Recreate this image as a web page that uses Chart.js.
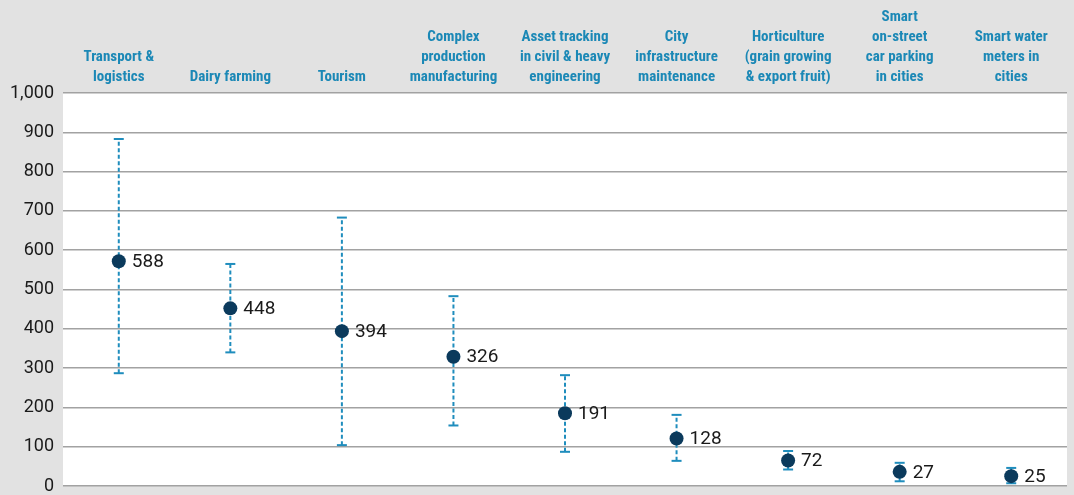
<!DOCTYPE html>
<html>
<head>
<meta charset="utf-8">
<script src="https://cdn.jsdelivr.net/npm/chart.js@4/dist/chart.umd.min.js"></script>
<style>
    html, body {
        margin: 0;
        padding: 0;
        background: #e2e2e2;
    }
    #wrap {
        width: 1074px;
        height: 495px;
    }
</style>
</head>
<body>
<div id="wrap"><canvas id="my-chart"></canvas></div>
<script>
    // categories (multi-line, as printed above the plot)
    const categories = [
        ['Transport &', 'logistics'],
        ['Dairy farming'],
        ['Tourism'],
        ['Complex', 'production', 'manufacturing'],
        ['Asset tracking', 'in civil & heavy', 'engineering'],
        ['City', 'infrastructure', 'maintenance'],
        ['Horticulture', '(grain growing', '& export fruit)'],
        ['Smart', 'on-street', 'car parking', 'in cities'],
        ['Smart water', 'meters in', 'cities']
    ];

    // printed estimates next to each marker
    const estimateLabels = [588, 448, 394, 326, 191, 128, 72, 27, 25];

    // marker positions as drawn in the picture
    const markerValues = [572, 452, 394, 329, 185, 121, 65, 36, 25];

    // range ends (whiskers)
    const lowValues = [287, 340, 104, 154, 87, 64, 42, 12, 7];
    const highValues = [883, 565, 683, 483, 282, 181, 89, 59, 46];

    const yTicks = [0, 100, 200, 300, 400, 500, 600, 700, 800, 900, 1000];

    const markerData = markerValues.map((v, i) => ({x: i, y: v}));

    // one dataset for all whiskers: low, high, gap
    const whiskerData = [];
    categories.forEach((c, i) => {
        whiskerData.push({x: i, y: lowValues[i]});
        whiskerData.push({x: i, y: highValues[i]});
        whiskerData.push({x: i, y: null});
    });

    const plotBackground = {
        id: 'plotBackground',
        beforeDraw(chart) {
            const {ctx, chartArea} = chart;
            ctx.save();
            ctx.fillStyle = '#ffffff';
            ctx.fillRect(chartArea.left, chartArea.top, chartArea.right - chartArea.left, chartArea.bottom - chartArea.top);
            ctx.restore();
        }
    };

    const valueLabels = {
        id: 'valueLabels',
        afterDatasetsDraw(chart) {
            const {ctx} = chart;
            const meta = chart.getDatasetMeta(0);
            ctx.save();
            ctx.font = '19px Roboto';
            ctx.fillStyle = '#1a1a1a';
            ctx.textAlign = 'left';
            ctx.textBaseline = 'middle';
            meta.data.forEach((point, i) => {
                ctx.fillText(String(estimateLabels[i]), point.x + 13, point.y + 1);
            });
            ctx.restore();
        }
    };

    const chartContext = document.getElementById('my-chart').getContext('2d');
    const chartConfig = {
        type: 'line',
        data: {
            datasets: [
                {
                    label: 'Estimate',
                    data: markerData,
                    showLine: false,
                    pointRadius: 7,
                    pointBackgroundColor: '#0b3a5c',
                    pointBorderWidth: 0
                },
                {
                    label: 'Range',
                    data: whiskerData,
                    spanGaps: false,
                    borderColor: '#1f8dbd',
                    borderWidth: 2,
                    borderDash: [4, 2.5],
                    pointStyle: 'line',
                    pointRadius: 5,
                    pointBorderColor: '#1f8dbd',
                    pointBorderWidth: 2
                }
            ]
        },
        options: {
            responsive: true,
            maintainAspectRatio: false,
            animation: false,
            events: [],
            layout: {
                padding: {left: 0, right: 0, top: 0, bottom: 9}
            },
            plugins: {
                legend: {display: false},
                tooltip: {enabled: false}
            },
            scales: {
                x: {
                    type: 'linear',
                    position: 'top',
                    min: -0.5,
                    max: categories.length - 0.5,
                    grid: {display: false, drawTicks: false},
                    border: {display: false},
                    afterBuildTicks(scale) {
                        scale.ticks = categories.map((c, i) => ({value: i}));
                    },
                    ticks: {
                        color: '#1b88b6',
                        font: {family: "'Roboto Condensed', 'Liberation Sans Narrow', 'DejaVu Sans Condensed', Roboto", size: 15, weight: 'bold', lineHeight: '20px'},
                        padding: 6,
                        maxRotation: 0,
                        autoSkip: false,
                        callback: value => categories[value]
                    },
                    afterFit(scale) {
                        scale.height = 93;
                        scale.paddingLeft = 0;
                        scale.paddingRight = 0;
                    }
                },
                y: {
                    min: 0,
                    max: 1000,
                    grid: {color: '#a2a2a2', lineWidth: 1.5, drawTicks: false},
                    border: {display: false},
                    afterBuildTicks(scale) {
                        scale.ticks = yTicks.map(v => ({value: v}));
                    },
                    ticks: {
                        color: '#1a1a1a',
                        font: {family: 'Roboto', size: 18},
                        padding: 9,
                        callback: value => value.toLocaleString('en-US')
                    },
                    afterFit(scale) {
                        scale.width = 63;
                        scale.paddingTop = 0;
                        scale.paddingBottom = 0;
                    }
                }
            }
        },
        plugins: [plotBackground, valueLabels]
    };
    const chart = new Chart(chartContext, chartConfig);
</script>
</body>
</html>
